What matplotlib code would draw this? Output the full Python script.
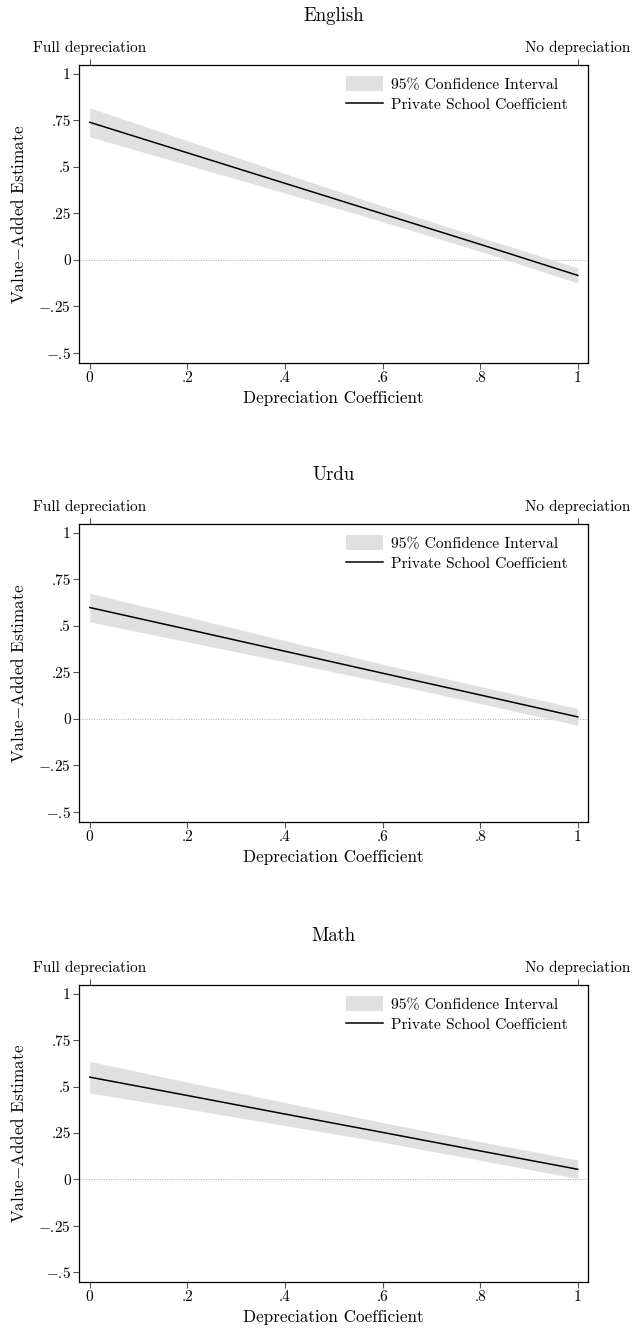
import numpy as np
import matplotlib
matplotlib.use("Agg")
import matplotlib.pyplot as plt
from matplotlib.patches import Patch
from matplotlib.lines import Line2D

plt.rcParams["font.family"] = ["cmr10", "DejaVu Serif"]
plt.rcParams["mathtext.fontset"] = "cm"
plt.rcParams["axes.formatter.use_mathtext"] = True

# depreciation coefficient (lambda)
lam = [0.0, 0.2, 0.4, 0.6, 0.8, 1.0]

subjects = ["English", "Urdu", "Math"]

english_coef = [0.740, 0.576, 0.412, 0.248, 0.084, -0.083]
english_lo = [0.662, 0.511, 0.360, 0.206, 0.046, -0.124]
english_hi = [0.818, 0.641, 0.464, 0.290, 0.122, -0.042]

urdu_coef = [0.599, 0.482, 0.364, 0.246, 0.129, 0.011]
urdu_lo = [0.522, 0.415, 0.307, 0.198, 0.083, -0.034]
urdu_hi = [0.676, 0.549, 0.421, 0.294, 0.175, 0.056]

math_coef = [0.551, 0.452, 0.352, 0.253, 0.153, 0.054]
math_lo = [0.466, 0.380, 0.290, 0.200, 0.103, 0.004]
math_hi = [0.636, 0.524, 0.414, 0.306, 0.203, 0.104]

yticks = [1, 0.75, 0.5, 0.25, 0, -0.25, -0.5]
ytick_labels = ["1", ".75", ".5", ".25", "0", r"$-$.25", r"$-$.5"]
xticks = [0, 0.2, 0.4, 0.6, 0.8, 1]
xtick_labels = ["0", ".2", ".4", ".6", ".8", "1"]
top_labels = ["Full depreciation", "No depreciation"]

series = {
    "English": (english_coef, english_lo, english_hi),
    "Urdu": (urdu_coef, urdu_lo, urdu_hi),
    "Math": (math_coef, math_lo, math_hi),
}

W, H = 632, 1332
fig = plt.figure(figsize=(W / 100, H / 100), dpi=100)

# axes box pixel positions (top, bottom) per panel
boxes = [(65, 363), (524, 822), (985, 1282)]
left_px, right_px = 79, 588

CI_COLOR = "#e0e0e0"
TICK_FS = 11
LABEL_FS = 12.3

for subj, (top, bot) in zip(subjects, boxes):
    ax = fig.add_axes([left_px / W, 1 - bot / H, (right_px - left_px) / W, (bot - top) / H])
    coef, lo, hi = series[subj]

    ax.fill_between(lam, lo, hi, color=CI_COLOR, lw=0)
    ax.plot(lam, coef, color="black", lw=1.1)
    ax.axhline(0, color="#aaaaaa", lw=0.7, ls=(0, (1, 1.5)), zorder=0)

    ax.set_xlim(-0.022, 1.021)
    ax.set_ylim(-0.554, 1.048)
    ax.set_yticks(yticks)
    ax.set_yticklabels(ytick_labels)
    ax.set_xticks(xticks)
    ax.set_xticklabels(xtick_labels)
    ax.tick_params(direction="out", length=4, width=0.8, color="#555555",
                   labelsize=TICK_FS, pad=2)
    for s in ax.spines.values():
        s.set_linewidth(0.9)

    ax.set_xlabel("Depreciation Coefficient", fontsize=LABEL_FS, labelpad=4)
    ax.set_ylabel(r"Value$-$Added Estimate", fontsize=LABEL_FS, labelpad=8)
    ax.set_title(subj, fontsize=13.5, pad=32)

    sec = ax.secondary_xaxis("top")
    sec.set_xticks([0, 1])
    sec.set_xticklabels(top_labels)
    sec.tick_params(direction="out", length=4, width=0.8, color="#555555",
                    labelsize=TICK_FS, pad=3)
    sec.spines["top"].set_visible(False)

    handles = [Patch(facecolor=CI_COLOR, edgecolor="none"),
               Line2D([], [], color="black", lw=1.1)]
    ax.legend(handles, ["95% Confidence Interval", "Private School Coefficient"],
              loc="upper left", bbox_to_anchor=((346 - left_px) / (right_px - left_px), 0.962),
              frameon=False, fontsize=11.2, borderpad=0, borderaxespad=0,
              handlelength=2.35, handleheight=1.05, handletextpad=0.55,
              labelspacing=0.32)

fig.savefig("out.png", dpi=100)
